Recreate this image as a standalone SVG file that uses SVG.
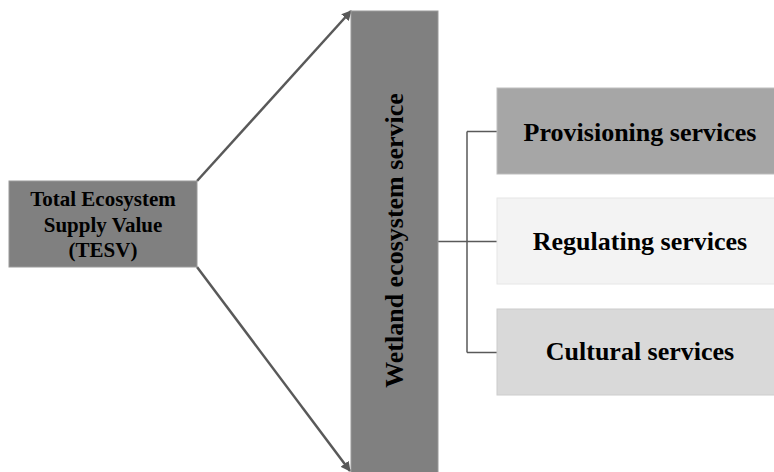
<svg xmlns="http://www.w3.org/2000/svg" width="774" height="472" viewBox="0 0 774 472">
<defs>
<style>
.lbl{font-family:"Liberation Serif","Times New Roman",serif;font-weight:bold;fill:#000;text-anchor:middle}
.con{stroke:#595959;fill:none}
</style>
<marker id="ah" viewBox="0 0 10 10" refX="9" refY="5" markerWidth="4" markerHeight="4" orient="auto" markerUnits="strokeWidth">
<path d="M0,0 L10,5 L0,10 z" fill="#595959"/>
</marker>
</defs>
<rect width="774" height="472" fill="#fff"/>
<g id="connectors">
<line class="con" x1="197" y1="181" x2="351" y2="11" stroke-width="2.5" marker-end="url(#ah)"/>
<line class="con" x1="197" y1="267" x2="350" y2="471" stroke-width="2.5" marker-end="url(#ah)"/>
<path class="con" stroke-width="1.5" d="M438,241.5 H467 M467,131.5 V352.5 M467,131.5 H497 M467,241.5 H497 M467,352.5 H497"/>
</g>
<g id="tesv">
<rect x="9" y="181" width="188" height="86" fill="#808080" stroke="#9a9a9a" stroke-width="1"/>
<text class="lbl" font-size="21" x="103" y="206">Total Ecosystem</text>
<text class="lbl" font-size="21" x="103" y="231.5">Supply Value</text>
<text class="lbl" font-size="21" x="103" y="257">(TESV)</text>
</g>
<g id="wetland">
<rect x="351" y="11" width="87" height="470" fill="#808080" stroke="#9a9a9a" stroke-width="1"/>
<text class="lbl" font-size="26" transform="translate(403,240.5) rotate(-90)" x="0" y="0">Wetland ecosystem service</text>
</g>
<g id="provisioning">
<rect x="497" y="88" width="280" height="86" fill="#a6a6a6" stroke="#bdbdbd" stroke-width="1"/>
<text class="lbl" font-size="26" x="640" y="140.5">Provisioning services</text>
</g>
<g id="regulating">
<rect x="497" y="198" width="280" height="86" fill="#f3f3f3" stroke="#e6e6e6" stroke-width="1"/>
<text class="lbl" font-size="26" x="640" y="249.5">Regulating services</text>
</g>
<g id="cultural">
<rect x="497" y="309" width="280" height="86" fill="#d9d9d9" stroke="#cccccc" stroke-width="1"/>
<text class="lbl" font-size="26" x="640" y="359.5">Cultural services</text>
</g>
</svg>
